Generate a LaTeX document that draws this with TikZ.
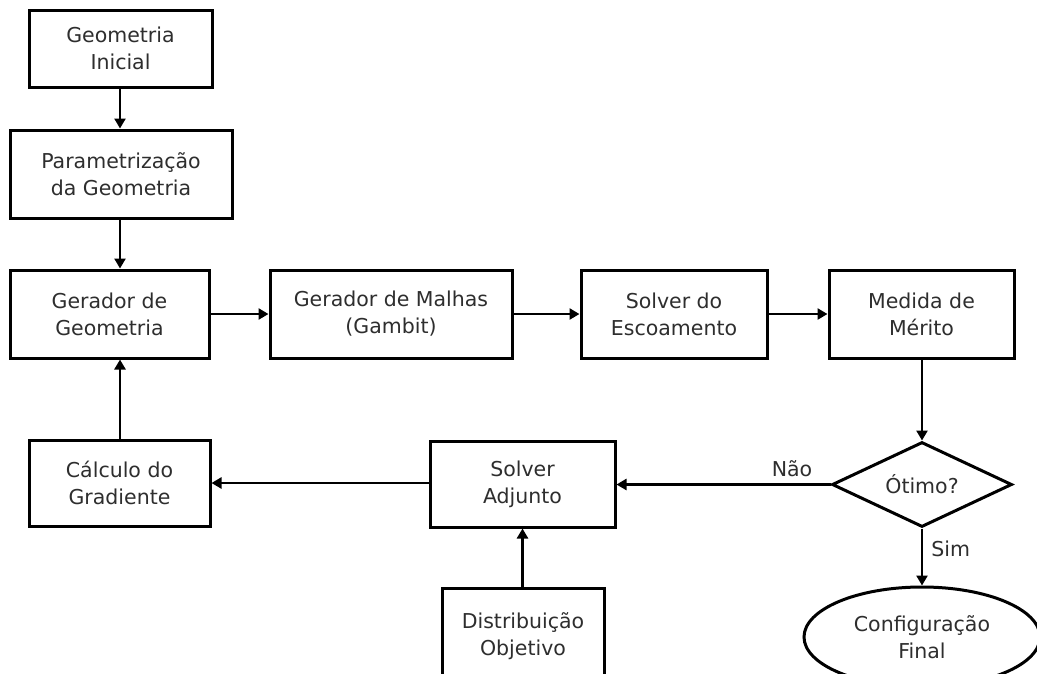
\documentclass[tikz,border=0pt]{standalone}
\usepackage{fontspec}
\setmainfont{DejaVu Sans}
\usetikzlibrary{shapes.geometric,arrows.meta}
\begin{document}
\begin{tikzpicture}[x=1pt,y=-1pt,
  every node/.style={font=\fontsize{20.5}{27}\selectfont, text=black!82},
  blk/.style={draw=black, line width=3pt, rectangle, inner sep=0pt, align=center},
  dec/.style={draw=black, line width=3pt, diamond, aspect=2.1, inner sep=0pt, minimum width=180pt, minimum height=85pt},
  term/.style={draw=black, line width=3pt, ellipse, inner sep=0pt, align=center, minimum width=236pt, minimum height=100pt},
  conn/.style={line width=2.8pt, -{Triangle[length=10pt,width=11pt]}},
  lbl/.style={inner sep=0pt}
]
\useasboundingbox (0,0) rectangle (1037,673);
\fill[white] (0,0) rectangle (1037,673);
\begin{scope}
\clip (0,0) rectangle (1037,673);
\node[blk, minimum width=183pt, minimum height=77pt] (gi) at (120.5,48.5) {Geometria\\Inicial};
\node[blk, minimum width=222pt, minimum height=88pt] (pg) at (121,174) {Parametrização\\da Geometria};
\node[blk, minimum width=199pt, minimum height=88pt] (gg) at (109.5,314) {Gerador de\\Geometria};
\node[blk, minimum width=242pt, minimum height=88pt] (gm) at (391,314) {Gerador de Malhas\\(Gambit)};
\node[blk, minimum width=186pt, minimum height=88pt] (se) at (674,314) {Solver do\\Escoamento};
\node[blk, minimum width=185pt, minimum height=88pt] (mm) at (921.5,314) {Medida de\\Mérito};
\node[dec] (ot) at (922,484.5) {Ótimo?};
\node[blk, minimum width=185pt, minimum height=86pt] (sa) at (522.5,484) {Solver\\Adjunto};
\node[blk, minimum width=181pt, minimum height=86pt] (cg) at (119.5,483) {Cálculo do\\Gradiente};
\node[blk, minimum width=162pt, minimum height=96pt] (do) at (523,636) {Distribuição\\Objetivo};
\node[term] (cf) at (922,637) {Configuração\\Final};

\draw[conn] (gi.south -| 120,0) -- (120,0 |- pg.north);
\draw[conn] (pg.south -| 120,0) -- (120,0 |- gg.north);
\draw[conn] (gg.east) -- (gm.west);
\draw[conn] (gm.east) -- (se.west);
\draw[conn] (se.east) -- (mm.west);
\draw[conn] (mm.south -| ot.north) -- (ot.north);
\draw[conn] (ot.west) -- (ot.west -| sa.east) node[lbl, pos=0.18, above=6pt] {Não};
\draw[conn] (sa.west |- cg.east) -- (cg.east);
\draw[conn] (cg.north -| 120,0) -- (120,0 |- gg.south);
\draw[conn] (do.north -| sa.south) -- (sa.south);
\draw[conn] (ot.south) -- (cf.north) node[lbl, pos=0.35, right=8pt] {Sim};
\end{scope}
\end{tikzpicture}
\end{document}
